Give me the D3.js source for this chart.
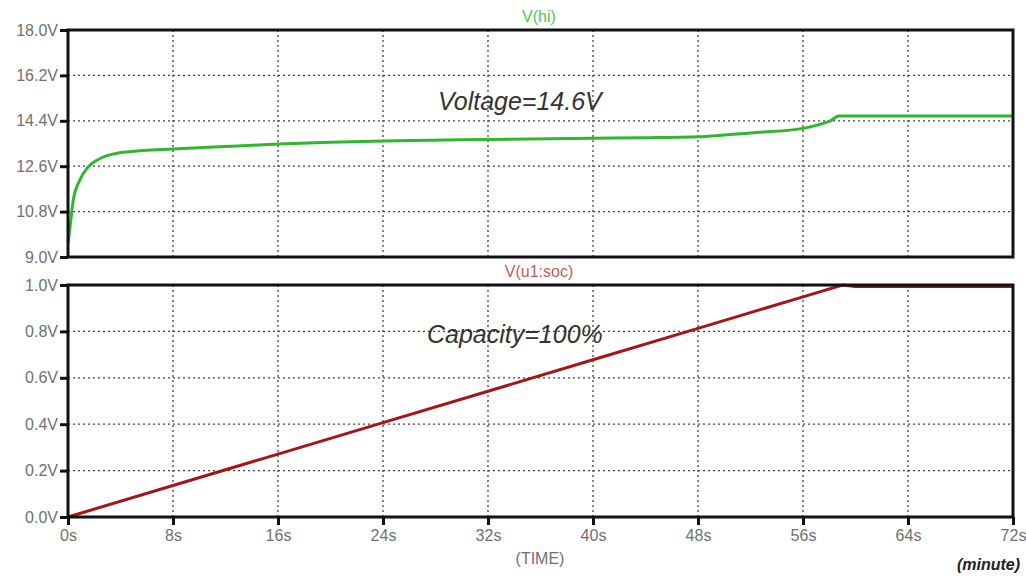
<!DOCTYPE html>
<html>
<head>
<meta charset="utf-8">
<script src="https://cdn.jsdelivr.net/npm/d3@7"></script>
<style>
  body { margin: 0; background: #fff; }
  svg { font-family: "Liberation Sans", Arial, sans-serif; }
  .tick-label { fill: #707070; font-size: 16px; }
</style>
</head>
<body>
<div class="chart"></div>
<script>
// data
var timeTicks = [0, 8, 16, 24, 32, 40, 48, 56, 64, 72];
var voltTicks = [9.0, 10.8, 12.6, 14.4, 16.2, 18.0];
var socTicks = [0.0, 0.2, 0.4, 0.6, 0.8, 1.0];

var voltTime = [0, 0.1, 0.4, 0.9, 1.5, 2.2, 3.4, 5.7, 8, 12, 16, 20, 24, 32, 40, 44, 48.6, 52, 56, 57, 58.2, 58.7, 60, 64, 68, 72];
var voltValue = [9.55, 9.95, 11.25, 12.05, 12.55, 12.84, 13.08, 13.22, 13.28, 13.38, 13.48, 13.55, 13.6, 13.66, 13.71, 13.73, 13.78, 13.92, 14.1, 14.22, 14.43, 14.59, 14.59, 14.59, 14.59, 14.59];

var socTime = [0, 8, 16, 24, 32, 40, 48, 56, 59, 60, 64, 72];
var socValue = [0, 0.136, 0.271, 0.407, 0.542, 0.678, 0.813, 0.949, 1.0, 0.994, 0.994, 0.994];

var svgWidth = 1026;
var svgHeight = 576;
var left = 68, right = 1013;

var svg = d3.select(".chart").append("svg")
  .attr("width", svgWidth)
  .attr("height", svgHeight);

var x = d3.scaleLinear().domain([0, 72]).range([left, right]);

function panel(yTop, yBottom, domain, ticks, fmt, times, values, curve, color, title, titleColor, note, noteY, showX) {
  var y = d3.scaleLinear().domain(domain).range([yBottom, yTop]);
  var g = svg.append("g");

  // grid
  g.selectAll(".vgrid").data(timeTicks.slice(1, -1)).enter().append("line")
    .attr("x1", function(d) { return x(d); })
    .attr("x2", function(d) { return x(d); })
    .attr("y1", yTop).attr("y2", yBottom)
    .attr("stroke", "#444").attr("stroke-width", 1.3).attr("stroke-dasharray", "2,3");
  g.selectAll(".hgrid").data(ticks.slice(1, -1)).enter().append("line")
    .attr("x1", left).attr("x2", right)
    .attr("y1", function(d) { return y(d); })
    .attr("y2", function(d) { return y(d); })
    .attr("stroke", "#444").attr("stroke-width", 1.3).attr("stroke-dasharray", "2,3");

  // curve
  var line = d3.line()
    .x(function(d, i) { return x(times[i]); })
    .y(function(d) { return y(d); })
    .curve(curve);
  g.append("path").datum(values)
    .attr("d", line)
    .attr("fill", "none")
    .attr("stroke", color)
    .attr("stroke-width", 3);

  // frame
  g.append("rect")
    .attr("x", left).attr("y", yTop)
    .attr("width", right - left).attr("height", yBottom - yTop)
    .attr("fill", "none").attr("stroke", "#111").attr("stroke-width", 3);

  // y axis
  var yAxis = d3.axisLeft(y).tickValues(ticks).tickFormat(fmt).tickSize(8).tickPadding(2);
  var ya = g.append("g").attr("transform", "translate(" + left + ",0)").call(yAxis);
  ya.select(".domain").remove();
  ya.selectAll(".tick line").attr("stroke", "#111").attr("stroke-width", 3);
  ya.selectAll(".tick text").attr("class", "tick-label").attr("font-family", null).attr("font-size", null);

  if (showX) {
    var xAxis = d3.axisBottom(x).tickValues(timeTicks).tickFormat(function(d) { return d + "s"; }).tickSize(8).tickPadding(5);
    var xa = g.append("g").attr("transform", "translate(0," + yBottom + ")").call(xAxis);
    xa.select(".domain").remove();
    xa.selectAll(".tick line").attr("stroke", "#111").attr("stroke-width", 3);
    xa.selectAll(".tick text").attr("class", "tick-label").attr("font-family", null).attr("font-size", null);
  }

  svg.append("text")
    .attr("x", 539).attr("y", yTop - 8)
    .attr("text-anchor", "middle")
    .attr("font-size", 16)
    .attr("fill", titleColor)
    .text(title);

  svg.append("text")
    .attr("x", note.x).attr("y", noteY)
    .attr("font-size", 25)
    .attr("font-style", "italic")
    .attr("fill", "#333")
    .text(note.text);
}

panel(30, 257, [9, 18], voltTicks, function(d) { return d.toFixed(1) + "V"; },
  voltTime, voltValue, d3.curveMonotoneX, "#2db82d", "V(hi)", "#55c455", { x: 438, text: "Voltage=14.6V" }, 110, false);

panel(285, 517, [0, 1], socTicks, function(d) { return d.toFixed(1) + "V"; },
  socTime, socValue, d3.curveLinear, "#a51515", "V(u1:soc)", "#c85a5a", { x: 427, text: "Capacity=100%" }, 343, true);

svg.append("text")
  .attr("x", 540).attr("y", 564)
  .attr("text-anchor", "middle")
  .attr("class", "tick-label")
  .text("(TIME)");

svg.append("text")
  .attr("x", 1020).attr("y", 570)
  .attr("text-anchor", "end")
  .attr("font-size", 16)
  .attr("font-weight", "bold")
  .attr("font-style", "italic")
  .attr("fill", "#222")
  .text("(minute)");
</script>
</body>
</html>
